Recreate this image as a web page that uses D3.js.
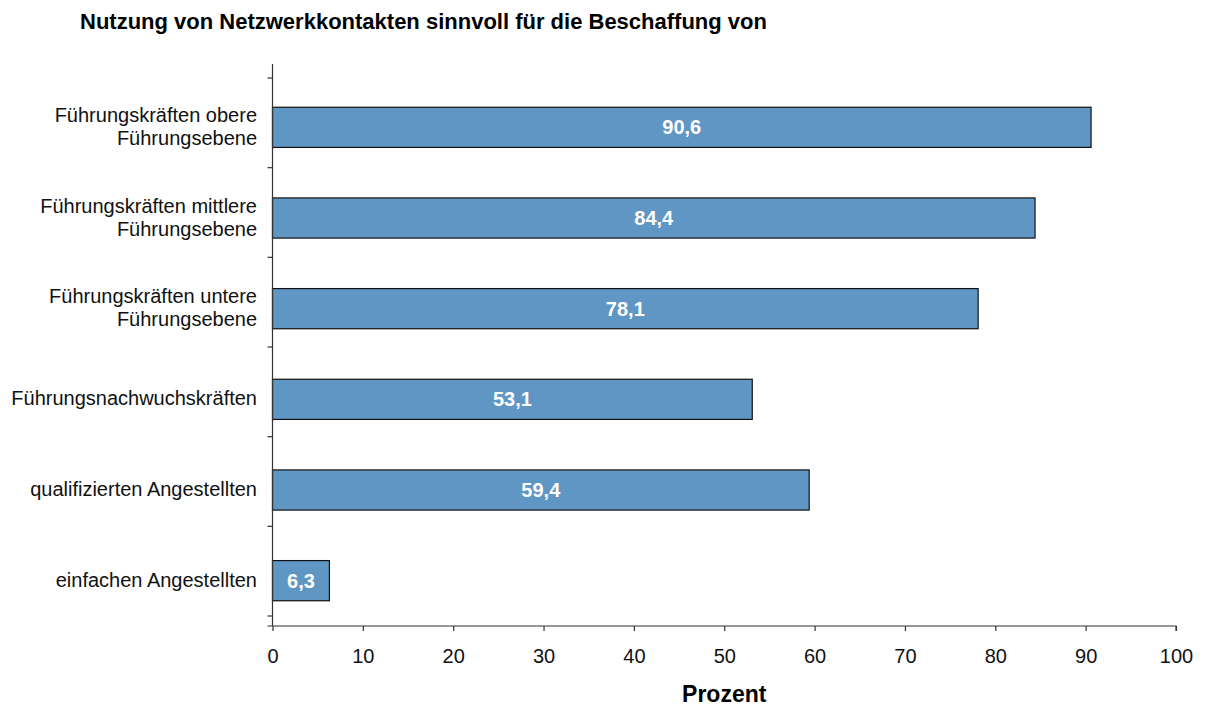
<!DOCTYPE html>
<html>
<head>
<meta charset="utf-8">
<script src="https://cdn.jsdelivr.net/npm/d3@7"></script>
<style>
  body { margin: 0; background: #fff; }
  text { font-family: "Liberation Sans", Arial, sans-serif; }
</style>
</head>
<body>
<script>
// data
var categories = [
  ["Führungskräften obere", "Führungsebene"],
  ["Führungskräften mittlere", "Führungsebene"],
  ["Führungskräften untere", "Führungsebene"],
  ["Führungsnachwuchskräften"],
  ["qualifizierten Angestellten"],
  ["einfachen Angestellten"]
];
var values = [90.6, 84.4, 78.1, 53.1, 59.4, 6.3];
var xTicks = [0, 10, 20, 30, 40, 50, 60, 70, 80, 90, 100];

var width = 1205, height = 707;

// create the SVG container
var svg = d3.select("body").append("svg")
    .attr("width", width)
    .attr("height", height);

var keys = categories.map(function(d) { return d.join(" "); });

var x = d3.scaleLinear().domain([0, 100]).range([272.5, 1176]);
// bars
var y = d3.scaleBand().domain(keys).range([82, 626]).paddingInner(0.557).paddingOuter(0.2785);
// tick marks between categories
var yt = d3.scaleBand().domain(keys).range([78, 616]);

// title
svg.append("text")
    .attr("x", 80)
    .attr("y", 29)
    .attr("font-size", 22)
    .attr("font-weight", "bold")
    .text("Nutzung von Netzwerkkontakten sinnvoll für die Beschaffung von");

// bars
svg.append("g")
  .selectAll("rect")
  .data(values)
  .enter().append("rect")
    .attr("x", x(0))
    .attr("y", function(d, i) { return y(keys[i]); })
    .attr("width", function(d) { return x(d) - x(0); })
    .attr("height", y.bandwidth())
    .attr("fill", "#6096c4")
    .attr("stroke", "#111")
    .attr("stroke-width", 1.2);

// value labels
svg.append("g")
  .selectAll("text")
  .data(values)
  .enter().append("text")
    .attr("x", function(d) { return (x(0) + x(d)) / 2; })
    .attr("y", function(d, i) { return y(keys[i]) + y.bandwidth() / 2 + 7; })
    .attr("text-anchor", "middle")
    .attr("font-size", 20)
    .attr("font-weight", "bold")
    .attr("fill", "#fff")
    .text(function(d) { return String(d).replace(".", ","); });

// y axis line and ticks
var axisCol = "#333";
svg.append("line")
    .attr("x1", x(0)).attr("x2", x(0))
    .attr("y1", 64).attr("y2", 626)
    .attr("stroke", axisCol).attr("stroke-width", 1.2);

var yTickPos = keys.map(function(k) { return yt(k); }).concat([yt.range()[1]]);
svg.append("g")
  .selectAll("line")
  .data(yTickPos)
  .enter().append("line")
    .attr("x1", x(0) - 5).attr("x2", x(0))
    .attr("y1", function(d) { return d; })
    .attr("y2", function(d) { return d; })
    .attr("stroke", axisCol).attr("stroke-width", 1.2);

// category labels
var catG = svg.append("g")
  .selectAll("text")
  .data(categories)
  .enter().append("text")
    .attr("text-anchor", "end")
    .attr("font-size", 20)
    .attr("fill", "#111")
    .attr("transform", function(d, i) {
      return "translate(257," + (y(keys[i]) + y.bandwidth() / 2) + ")";
    });
catG.selectAll("tspan")
  .data(function(d) { return d.map(function(t, j) { return { t: t, j: j, n: d.length }; }); })
  .enter().append("tspan")
    .attr("x", 0)
    .attr("y", function(d) { return (d.j - (d.n - 1) / 2) * 23 + 6; })
    .text(function(d) { return d.t; });

// x axis
var xAxis = d3.axisBottom(x)
    .tickValues(xTicks)
    .tickSize(5)
    .tickPadding(22)
    .tickFormat(d3.format("d"));

var gx = svg.append("g")
    .attr("transform", "translate(0,626)")
    .call(xAxis);
gx.select(".domain")
    .attr("d", "M" + (x(0) - 5) + ",0H" + x(100) + "V5")
    .attr("stroke", axisCol).attr("stroke-width", 1.2);
gx.selectAll(".tick line").attr("stroke", axisCol).attr("stroke-width", 1.2);
gx.selectAll(".tick text")
    .attr("dy", null)
    .attr("y", 37)
    .attr("font-size", 20)
    .attr("font-family", "Liberation Sans, Arial, sans-serif")
    .attr("fill", "#111");

// x axis title
svg.append("text")
    .attr("x", (x(0) + x(100)) / 2)
    .attr("y", 702)
    .attr("text-anchor", "middle")
    .attr("font-size", 23)
    .attr("font-weight", "bold")
    .text("Prozent");
</script>
</body>
</html>
